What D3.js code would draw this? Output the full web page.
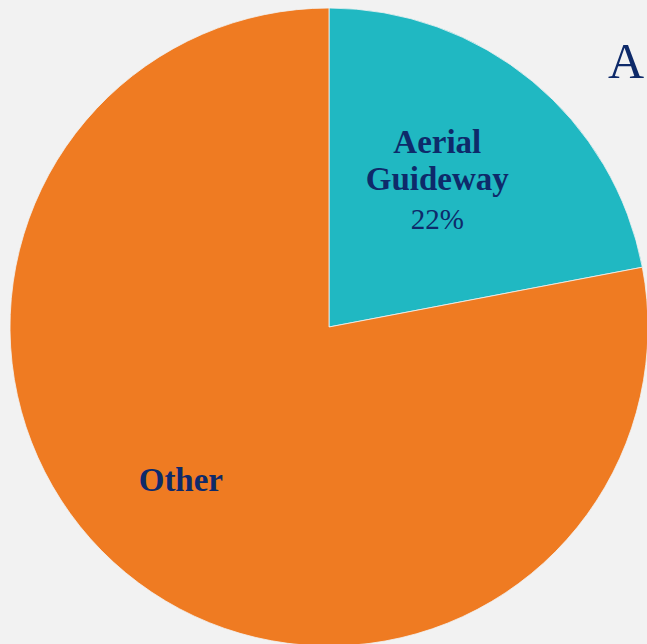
<!DOCTYPE html>
<html>
<head>
<meta charset="utf-8">
<script src="https://cdn.jsdelivr.net/npm/d3@7"></script>
<style>
  html, body { margin: 0; padding: 0; background: #f2f2f2; overflow: hidden; }
  svg { display: block; }
</style>
</head>
<body>
<div id="chart"></div>
<script>
var categories = ["Aerial Guideway", "Other"];
var shares = [22, 78];
var colors = ["#20b8c2", "#ef7b22"];
var labelLines = [["Aerial", "Guideway"], ["Other"]];

var width = 647, height = 644;
var cx = 329, cy = 327, radius = 319;
var navy = "#0e2a6a";
var serif = "'Palatino Linotype', 'Book Antiqua', Palatino, 'Liberation Serif', serif";

var svg = d3.select("#chart").append("svg")
  .attr("width", width)
  .attr("height", height);

var data = categories.map(function (c, i) {
  return { name: c, value: shares[i], color: colors[i], lines: labelLines[i] };
});

var pie = d3.pie()
  .value(function (d) { return d.value; })
  .sort(null);

var arc = d3.arc().innerRadius(0).outerRadius(radius);

var g = svg.append("g").attr("transform", "translate(" + cx + "," + cy + ")");

var arcs = pie(data);

g.selectAll("path")
  .data(arcs)
  .enter()
  .append("path")
  .attr("d", arc)
  .attr("fill", function (d) { return d.data.color; })
  .attr("stroke", "#f2f2f2")
  .attr("stroke-width", 0.8);

// label radius + small nudge per slice, like the original
var labelR = [184, 212];
var nudge = [[-9, -6], [-13, -10]];

var labels = g.selectAll("text.label")
  .data(arcs)
  .enter()
  .append("text")
  .attr("class", "label")
  .attr("text-anchor", "middle")
  .attr("font-family", serif)
  .attr("fill", navy)
  .attr("transform", function (d, i) {
    var c = d3.arc().innerRadius(labelR[i]).outerRadius(labelR[i]).centroid(d);
    return "translate(" + (c[0] + nudge[i][0]) + "," + (c[1] + nudge[i][1]) + ")";
  });

labels.each(function (d, i) {
  var t = d3.select(this);
  var lines = d.data.lines;
  var showPct = i === 0;
  var n = lines.length + (showPct ? 1 : 0);
  var lh = 37;
  var y0 = -((n - 1) / 2) * lh + 11;
  lines.forEach(function (ln, k) {
    t.append("tspan")
      .attr("x", 0)
      .attr("y", y0 + k * lh)
      .attr("font-weight", "bold")
      .attr("font-size", 33)
      .text(ln);
  });
  if (showPct) {
    t.append("tspan")
      .attr("x", 0)
      .attr("y", y0 + lines.length * lh + 2)
      .attr("font-size", 29)
      .text(d.data.value + "%");
  }
});

// title, cut off at the right edge in the original
svg.append("text")
  .attr("x", 608)
  .attr("y", 78)
  .attr("font-family", serif)
  .attr("font-size", 50)
  .attr("fill", navy)
  .text("A");
</script>
</body>
</html>
